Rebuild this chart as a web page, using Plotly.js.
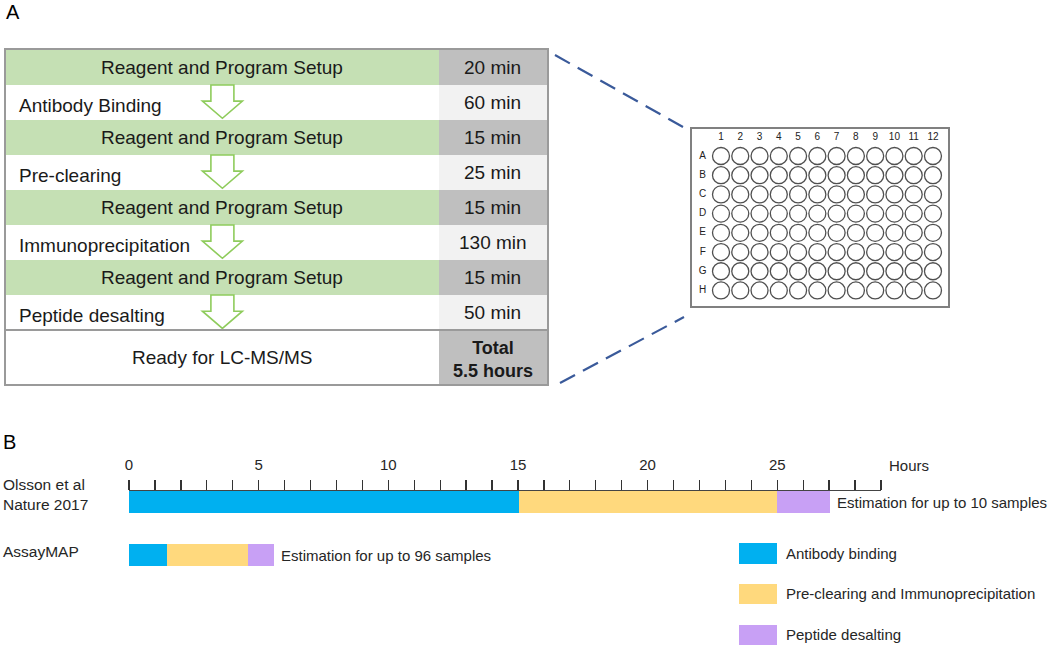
<!DOCTYPE html>
<html><head><meta charset="utf-8">
<script src="https://cdn.plot.ly/plotly-3.0.1.min.js"></script>
<style>html,body{margin:0;padding:0;background:#fff}</style>
</head><body><div id="chart" style="width:1050px;height:646px"></div>
<script>
// ---------- Panel A data ----------
const steps = ['Reagent and Program Setup', 'Antibody Binding', 'Reagent and Program Setup', 'Pre-clearing',
               'Reagent and Program Setup', 'Immunoprecipitation', 'Reagent and Program Setup', 'Peptide desalting'];
const stepMinutes = [20, 60, 15, 25, 15, 130, 15, 50];
const setupName = 'Reagent and Program Setup';
const finalStep = 'Ready for LC-MS/MS';
const plateCols = ['1','2','3','4','5','6','7','8','9','10','11','12'];
const plateRows = ['A','B','C','D','E','F','G','H'];

// ---------- Panel B data ----------
const methods = ['Olsson et al<br>Nature 2017', 'AssayMAP'];
const phases = ['Antibody binding', 'Pre-clearing and Immunoprecipitation', 'Peptide desalting'];
const antibodyHours = [15.05, 1.48];
const ipHours = [9.95, 3.12];
const desaltHours = [2.05, 1.0];
const estimateNotes = ['Estimation for up to 10 samples', 'Estimation for up to 96 samples'];
const hourTicks = [0, 5, 10, 15, 20, 25];

// ---------- styling / layout helpers ----------
const W = 1050, H = 646;
const px = v => v / W, py = v => 1 - v / H;
const FONT = 'Liberation Sans, Arial, sans-serif';
const TXT = '#1a1a1a';
const BFS = 15;
const phaseColors = ['#00b0f0', '#ffd97d', '#c8a0f5'];
const green = '#c5e0b4', darkGray = '#bfbfbf', lightGray = '#f2f2f2';
const labelColFrac = 0.8;
const finalRowUnits = 1.54;

// table row geometry (in y2 units, one unit per ordinary row)
const rowNames = steps.concat([finalStep]);
const rowUnits = rowNames.map((s, i) => i === steps.length ? finalRowUnits : 1);
const rowCenters = []; let acc = -0.5;
rowUnits.forEach(u => { rowCenters.push(acc + u / 2); acc += u; });
const tableBottom = acc;
const isSetup = rowNames.map(s => s === setupName);
const isFinal = rowNames.map((s, i) => i === steps.length);

const traces = [];
// table: left label column
traces.push({
  type: 'bar', orientation: 'h', xaxis: 'x2', yaxis: 'y2',
  x: rowNames.map(() => labelColFrac), y: rowCenters, width: rowUnits,
  marker: { color: rowNames.map((s, i) => isSetup[i] ? green : '#ffffff'), line: { width: 0 } },
  hoverinfo: 'skip', showlegend: false
});
// table: time column
traces.push({
  type: 'bar', orientation: 'h', xaxis: 'x2', yaxis: 'y2',
  x: rowNames.map(() => 1 - labelColFrac), y: rowCenters, width: rowUnits,
  marker: { color: rowNames.map((s, i) => (isSetup[i] || isFinal[i]) ? darkGray : lightGray), line: { width: 0 } },
  hoverinfo: 'skip', showlegend: false
});

// plate wells
const wx = [], wy = [];
plateRows.forEach((r, ri) => plateCols.forEach((c, ci) => { wx.push(ci); wy.push(ri); }));
traces.push({
  type: 'scatter', mode: 'markers', xaxis: 'x3', yaxis: 'y3', x: wx, y: wy,
  marker: { symbol: 'circle-open', size: 17, color: '#505050', line: { width: 1.3 } },
  hoverinfo: 'skip', showlegend: false, cliponaxis: false
});
traces.push({
  type: 'scatter', mode: 'text', xaxis: 'x3', yaxis: 'y3',
  x: plateCols.map((c, i) => i), y: plateCols.map(() => -0.95), text: plateCols,
  textfont: { size: 10, color: '#222', family: FONT }, hoverinfo: 'skip', showlegend: false, cliponaxis: false
});
traces.push({
  type: 'scatter', mode: 'text', xaxis: 'x3', yaxis: 'y3',
  x: plateRows.map(() => -0.95), y: plateRows.map((r, i) => i), text: plateRows,
  textfont: { size: 10, color: '#222', family: FONT }, hoverinfo: 'skip', showlegend: false, cliponaxis: false
});

// timeline bars
const phaseValues = [antibodyHours, ipHours, desaltHours];
phases.forEach((p, k) => {
  traces.push({
    type: 'bar', orientation: 'h', name: p, xaxis: 'x', yaxis: 'y',
    x: phaseValues[k], y: methods.map((m, i) => i), width: 0.415,
    marker: { color: phaseColors[k], line: { width: 0 } }, hoverinfo: 'skip', showlegend: false
  });
});
// legend drawn as a mini bar chart
traces.push({
  type: 'bar', orientation: 'h', xaxis: 'x4', yaxis: 'y4',
  x: phases.map(() => 1), y: phases.map((p, i) => i), width: 0.5,
  marker: { color: phaseColors, line: { width: 0 } }, hoverinfo: 'skip', showlegend: false
});

// annotations
const ann = [];
ann.push({ text: 'A', xref: 'paper', yref: 'paper', x: px(4), y: py(12), xanchor: 'left', yanchor: 'middle', showarrow: false, font: { size: 20, color: '#000' } });
ann.push({ text: 'B', xref: 'paper', yref: 'paper', x: px(1), y: py(442), xanchor: 'left', yanchor: 'middle', showarrow: false, font: { size: 20, color: '#000' } });

rowNames.forEach((s, i) => {
  const center = isSetup[i] || isFinal[i];
  ann.push({ text: s, xref: 'x2', yref: 'y2', x: center ? 0.4 : 0.02, y: rowCenters[i], yshift: center ? 0 : -3,
    xanchor: center ? 'center' : 'left', yanchor: 'middle', showarrow: false, font: { size: 19, color: TXT } });
});
stepMinutes.forEach((m, i) => {
  ann.push({ text: m + ' min', xref: 'x2', yref: 'y2', x: labelColFrac + (1 - labelColFrac) / 2, y: rowCenters[i],
    xanchor: 'center', yanchor: 'middle', showarrow: false, font: { size: 19, color: TXT } });
});
const totalHours = stepMinutes.reduce((a, b) => a + b, 0) / 60;
ann.push({ text: '<b>Total<br>' + totalHours + ' hours</b>', xref: 'x2', yref: 'y2', x: labelColFrac + (1 - labelColFrac) / 2,
  y: rowCenters[rowCenters.length - 1], yshift: -2, xanchor: 'center', yanchor: 'middle', showarrow: false, font: { size: 18, color: TXT } });

methods.forEach((m, i) => {
  ann.push({ text: m, xref: 'paper', yref: 'y', x: 0.001, y: i, yshift: i === 0 ? 8 : 4, xanchor: 'left', yanchor: 'middle', align: 'left',
    showarrow: false, font: { size: 15.5, color: '#262626' } });
  const tot = antibodyHours[i] + ipHours[i] + desaltHours[i];
  ann.push({ text: estimateNotes[i], xref: 'x', yref: 'y', x: tot, y: i, xshift: 5, xanchor: 'left', yanchor: 'middle',
    showarrow: false, font: { size: BFS, color: '#262626' } });
});
ann.push({ text: 'Hours', xref: 'x domain', yref: 'paper', x: 1, xshift: 6, y: py(465), xanchor: 'left', yanchor: 'middle',
  showarrow: false, font: { size: BFS, color: '#262626' } });

// shapes: arrows, row rule, dashed connectors
const shapes = [];
const ax = 0.4, sx = 11.5 / 541, hx = 20 / 541;
rowNames.forEach((s, i) => {
  if (isSetup[i] || isFinal[i]) return;
  const c = rowCenters[i], top = c - 0.5, neck = c - 0.04, tip = c + 0.45;
  shapes.push({ type: 'path', xref: 'x2', yref: 'y2',
    path: `M${ax - sx},${top} L${ax + sx},${top} L${ax + sx},${neck} L${ax + hx},${neck} L${ax},${tip} L${ax - hx},${neck} L${ax - sx},${neck} Z`,
    line: { color: '#8fcc5c', width: 1.6 }, fillcolor: '#ffffff' });
});
shapes.push({ type: 'line', xref: 'x2', yref: 'y2', x0: 0, x1: 1, y0: steps.length - 0.5, y1: steps.length - 0.5,
  line: { color: '#9a9a9a', width: 2 } });
shapes.push({ type: 'line', xref: 'paper', yref: 'paper', x0: px(555), y0: py(55), x1: px(683), y1: py(127),
  line: { color: '#3a5a9a', width: 2.2, dash: '17px,9px' } });
shapes.push({ type: 'line', xref: 'paper', yref: 'paper', x0: px(560), y0: py(383), x1: px(684), y1: py(317),
  line: { color: '#3a5a9a', width: 2.2, dash: '17px,9px' } });

const hidden = { showgrid: false, zeroline: false, showticklabels: false, ticks: '', fixedrange: true };
const layout = {
  width: W, height: H, margin: { l: 0, r: 0, t: 0, b: 0 },
  paper_bgcolor: '#ffffff', plot_bgcolor: 'rgba(0,0,0,0)',
  font: { family: FONT, color: TXT },
  barmode: 'stack', bargap: 0, showlegend: false,
  xaxis: { domain: [px(129), px(881)], range: [0, 29], side: 'top', anchor: 'y',
    showline: true, linecolor: '#444', linewidth: 1.5, showgrid: false, zeroline: false,
    tickmode: 'array', tickvals: hourTicks, ticktext: hourTicks.map(String),
    ticks: 'outside', ticklen: 10, tickwidth: 1.3, tickcolor: '#333',
    minor: { tickmode: 'linear', tick0: 0, dtick: 1, ticks: 'outside', ticklen: 10, tickwidth: 1.3, tickcolor: '#333' },
    tickfont: { size: BFS, color: '#262626' }, ticklabelstandoff: 4, fixedrange: true },
  yaxis: Object.assign({ domain: [py(600), py(491)], range: [1.849, -0.2075], anchor: 'x', showline: false }, hidden),
  xaxis2: Object.assign({ domain: [px(6), px(547)], range: [0, 1], anchor: 'y2', showline: true, mirror: true, linecolor: '#9a9a9a', linewidth: 2 }, hidden),
  yaxis2: Object.assign({ domain: [py(384), py(50)], range: [tableBottom, -0.5], anchor: 'x2', showline: true, mirror: true, linecolor: '#9a9a9a', linewidth: 2 }, hidden),
  xaxis3: Object.assign({ domain: [px(692), px(948)], range: [-1.505, 11.78], anchor: 'y3', showline: true, mirror: true, linecolor: '#808080', linewidth: 1.8 }, hidden),
  yaxis3: Object.assign({ domain: [py(306), py(129)], range: [7.81, -1.406], anchor: 'x3', showline: true, mirror: true, linecolor: '#808080', linewidth: 1.8 }, hidden),
  xaxis4: Object.assign({ domain: [px(739), px(777)], range: [0, 1], anchor: 'y4', showline: false }, hidden),
  yaxis4: { domain: [py(645), py(533)], range: [2.25, -0.5], anchor: 'x4', side: 'right', showline: false, showgrid: false, zeroline: false,
    tickmode: 'array', tickvals: phases.map((p, i) => i), ticktext: phases, ticks: '', ticklabelstandoff: 8,
    tickfont: { size: BFS, color: '#262626' }, fixedrange: true },
  annotations: ann, shapes: shapes
};
Plotly.newPlot('chart', traces, layout, { staticPlot: true, displayModeBar: false });
</script></body></html>
